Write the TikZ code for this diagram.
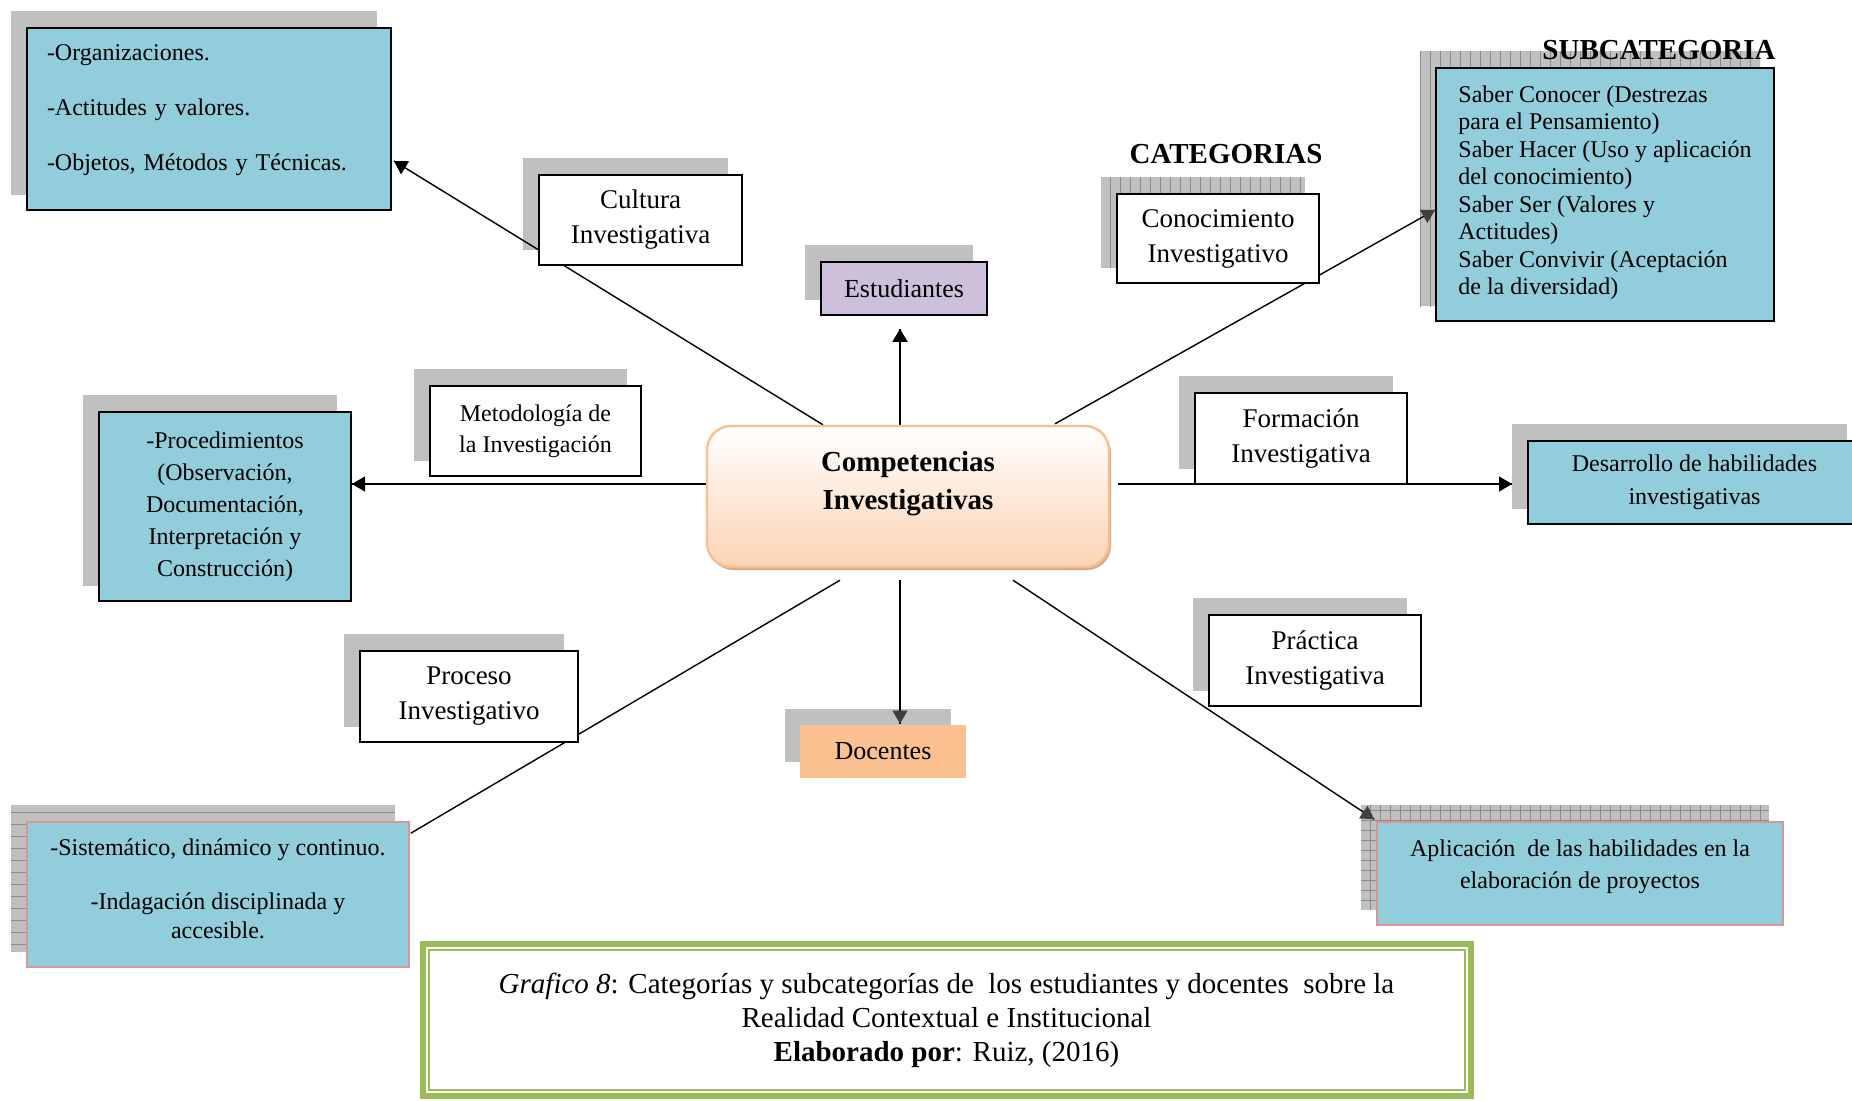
\documentclass[tikz,border=0pt]{standalone}
\usepackage{fontspec}
\setmainfont{Liberation Serif}
\usetikzlibrary{arrows.meta,shadows,patterns.meta,
                 decorations.markings}
\pgfdeclarelayer{shade}
\pgfdeclarelayer{wires}
\pgfsetlayers{shade,wires,main}

\definecolor{subblue}{RGB}{146,205,220}
\definecolor{lila}{RGB}{204,192,218}
\definecolor{peach}{RGB}{250,192,144}
\definecolor{peachbot}{RGB}{251,211,180}
\definecolor{peachline}{RGB}{249,190,142}
\definecolor{peachshade}{RGB}{214,172,136}
\definecolor{shadowgray}{RGB}{192,192,192}
\definecolor{linegray}{RGB}{140,140,140}
\definecolor{pinkline}{RGB}{217,150,148}
\definecolor{capgreen}{RGB}{155,187,89}
\definecolor{tipgray}{RGB}{64,64,64}

\tikzset{->/.style = {decoration={markings, mark=at position 1 with {\arrow{Triangle[length=6.5pt,width=7.5pt]}}}, postaction={decorate}}}
\tikzset{->g/.style = {decoration={markings, mark=at position 1 with {\arrow{Triangle[length=6.5pt,width=7.5pt,color=tipgray]}}}, postaction={decorate}}}
\tikzset{catbox/.style = {draw, line width=0.8pt, fill=white, align=center, inner sep=0pt,
                          minimum height=45pt, font=\fontsize{13.5}{17.5}\selectfont},
         subbox/.style = {draw, line width=1pt, fill=subblue, inner xsep=10pt, inner ysep=0pt,
                          font=\fontsize{12}{13.75}\selectfont},
         pinkbox/.style = {draw=pinkline, line width=0.8pt, fill=subblue, align=center, inner sep=0pt,
                           font=\fontsize{12}{14.5}\selectfont},
         tagbox/.style = {minimum width=83pt, minimum height=26.5pt, inner sep=0pt,
                          font=\fontsize{13}{15}\selectfont},
         hubbox/.style = {rounded corners=12pt, draw=peachline, line width=1.2pt,
                          top color=white, bottom color=peachbot, align=center,
                          minimum width=201pt, minimum height=70.5pt,
                          font=\fontsize{14.5}{19}\bfseries,
                          drop shadow={shadow xshift=1pt, shadow yshift=-1.5pt, fill=peachshade, opacity=1}},
         headline/.style = {inner sep=0pt, font=\fontsize{14.5}{16}\bfseries},
         capbox/.style = {draw=capgreen, line width=3pt, fill=white, align=center,
                          minimum width=524pt, minimum height=76pt, font=\fontsize{14.5}{17}\selectfont},
         vlines/.style = {postaction={pattern={Lines[angle=90,distance=5pt,line width=0.5pt]}, pattern color=linegray}},
         hlines/.style = {postaction={pattern={Lines[angle=0,distance=6pt,line width=0.5pt]}, pattern color=linegray}},
         grid/.style = {postaction={pattern={Hatch[distance=5pt,line width=0.5pt]}, pattern color=linegray}}}

\begin{document}
\begin{tikzpicture}[x=0.5pt,y=-0.5pt]
\useasboundingbox (0,0) rectangle (1852,1100);

% centro
\node[hubbox] (comp) at (908,496.5) {Competencias\\Investigativas\\[-3pt]\mbox{}};

% categorias
\node[headline] (cat) at (1226,154) {CATEGORIAS};
\node[headline] (subcat) at (1659,50) {SUBCATEGORIA};
\node[catbox, minimum width=101.5pt] (cult) at (640.5,220) {Cultura\\Investigativa};
\node[catbox, minimum width=101pt, minimum height=44.5pt] (conoc) at (1218,238.5) {Conocimiento\\Investigativo};
\node[catbox, minimum width=105.5pt, font=\fontsize{12}{15.4}\selectfont] (metod) at (535.5,431) {Metodología de\\la Investigación};
\node[catbox, minimum width=106pt, minimum height=45.5pt] (form) at (1301,438.5) {Formación\\Investigativa};
\node[catbox, minimum width=109pt, minimum height=45.5pt] (proceso) at (469,696.5) {Proceso\\Investigativo};
\node[catbox, minimum width=106pt, minimum height=45.5pt] (pract) at (1315,660.5) {Práctica\\Investigativa};
\node[tagbox, draw, line width=0.8pt, fill=lila] (estud) at (904,288.5) {Estudiantes};
\node[tagbox, fill=peach] (docen) at (883,751.5) {Docentes};

% subcategorias
\node[subbox, text width=162pt, align=left, minimum height=91pt] (org) at (209,119)
  {-Organizaciones.\\[13.75pt]-Actitudes y valores.\\[13.75pt]-Objetos, Métodos y Técnicas.\\[-2pt]\mbox{}};
\node[subbox, align=left, inner xsep=0pt, minimum width=169pt, minimum height=126.5pt] (saber) at (1605,194.5)
  {Saber Conocer (Destrezas\\para el Pensamiento)\\Saber Hacer (Uso y aplicación\\del conocimiento)\\Saber Ser (Valores y\\Actitudes)\\Saber Convivir (Aceptación\\de la diversidad)\\[-9.5pt]\mbox{}};
\node[subbox, align=center, inner xsep=0pt, minimum width=126pt, minimum height=94.5pt, font=\fontsize{12}{16}\selectfont] (proc) at (225,506.5)
  {-Procedimientos\\(Observación,\\Documentación,\\Interpretación y\\Construcción)};
\node[subbox, align=center, inner xsep=0pt, minimum width=166.5pt, minimum height=41.5pt, font=\fontsize{12}{16.5}\selectfont] (desarr) at (1694.5,482.5)
  {Desarrollo de habilidades\\investigativas};
\node[pinkbox, minimum width=191pt, minimum height=72.5pt] (sist) at (218,894.5)
  {-Sistemático, dinámico y continuo.\\[12.5pt]-Indagación disciplinada y\\accesible.\\[-8.5pt]\mbox{}};
\node[pinkbox, minimum width=203pt, minimum height=51.5pt, font=\fontsize{12}{16}\selectfont] (aplic) at (1580,873.5)
  {Aplicación\ \ de las habilidades en la\\elaboración de proyectos\\[-6.5pt]\mbox{}};

% leyenda
\node[capbox] (cap) at (946.5,1020)
  {\textit{Grafico 8}: Categorías y subcategorías de\ \ los estudiantes y docentes\ \ sobre la\\Realidad Contextual e Institucional\\\textbf{Elaborado por}: Ruiz, (2016)};
\draw[capgreen, line width=1pt] ([shift={(9,-9)}]cap.south west) rectangle ([shift={(-9,9)}]cap.north east);

% conectores
\begin{pgfonlayer}{wires}
\draw[->, line width=0.7pt] ([shift={(-85,0)}]comp.north) -- ([shift={(2,42)}]org.east);
\draw[->, line width=0.7pt] ([shift={(-8,0)}]comp.north) -- ([shift={(-4,13)}]estud.south);
\draw[->g, line width=0.7pt] ([shift={(147,-1)}]comp.north) -- ([shift={(0,15.5)}]saber.west);
\draw[->, line width=0.7pt] ([shift={(12,-12.5)}]comp.west) -- ([shift={(0,-22.5)}]proc.east);
\draw[->, line width=0.7pt] ([shift={(8,-12.5)}]comp.east) -- ([shift={(-15,1.5)}]desarr.west);
\draw[line width=0.7pt] ([shift={(-68,12)}]comp.south) -- ([shift={(1,12)}]sist.north east);
\draw[->g, line width=0.7pt] ([shift={(-8,12)}]comp.south) -- ([shift={(17,-1)}]docen.north);
\draw[->g, line width=0.7pt] ([shift={(105,12)}]comp.south) -- ([shift={(-2,-2)}]aplic.north west);
\end{pgfonlayer}

% sombras
\begin{pgfonlayer}{shade}
\foreach \n in {org,cult,estud,metod,proc,form,desarr,proceso,docen,pract}
  \fill[shadowgray] ([shift={(-15,-16)}]\n.south west) rectangle ([shift={(-15,-16)}]\n.north east);
\foreach \n/\p in {conoc/vlines,saber/vlines,sist/hlines,aplic/grid}
  \fill[shadowgray, \p] ([shift={(-15,-16)}]\n.south west) rectangle ([shift={(-15,-16)}]\n.north east);
\end{pgfonlayer}
\end{tikzpicture}
\end{document}
